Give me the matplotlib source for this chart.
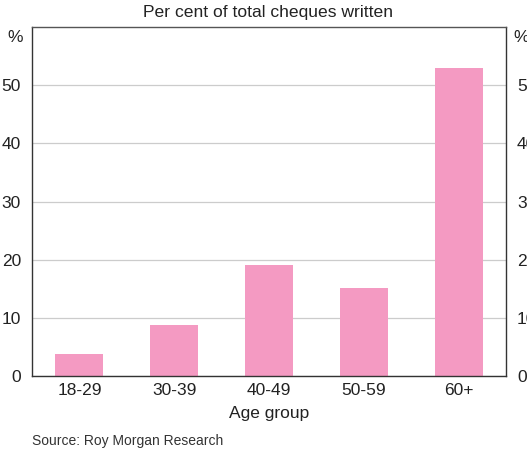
import matplotlib
matplotlib.use("Agg")
import matplotlib.pyplot as plt
import numpy as np

categories = ["18-29", "30-39", "40-49", "50-59", "60+"]
values = [3.8, 8.8, 19.1, 15.1, 52.9]
yticks = [0, 10, 20, 30, 40, 50]

plt.rcParams['font.family'] = ['Liberation Sans', 'DejaVu Sans']

fig = plt.figure(figsize=(5.27, 4.5), dpi=100)
ax = fig.add_axes([32/527, 74/450, 474/527, 349/450])

x = np.arange(len(categories))
ax.bar(x, values, width=0.505, color='#F49AC2', zorder=2)
ax.set_xlim(-0.5, len(categories) - 0.5)
ax.set_ylim(0, 60)
ax.set_yticks(yticks)
ax.set_yticklabels([str(t) for t in yticks])
ax.yaxis.grid(True, color='#cccccc', linewidth=0.9, zorder=0)
ax.set_axisbelow(True)
ax.set_xticks(x)
ax.set_xticklabels(categories)
ax.tick_params(axis='both', length=0, labelsize=12.5, colors='#222222')
ax.tick_params(axis='y', pad=8, labelright=True)
ax.tick_params(axis='x', pad=5)
for s in ax.spines.values():
    s.set_color('#333333')
    s.set_linewidth(1.0)
ax.spines['top'].set_color('#555555')

ax.set_xlabel("Age group", fontsize=12.5, color='#222222', labelpad=6)

fig.text(15/527, 1 - 37/450, "%", ha='center', va='center', fontsize=12.5, color='#222222')
fig.text(521/527, 1 - 37/450, "%", ha='center', va='center', fontsize=12.5, color='#222222')
fig.text(268/527, 1 - 12/450, "Per cent of total cheques written", ha='center', va='center',
         fontsize=12.6, color='#222222')
fig.text(32/527, 1 - 441/450, "Source: Roy Morgan Research", ha='left', va='center',
         fontsize=10, color='#333333')

fig.savefig("out.png", dpi=100)
